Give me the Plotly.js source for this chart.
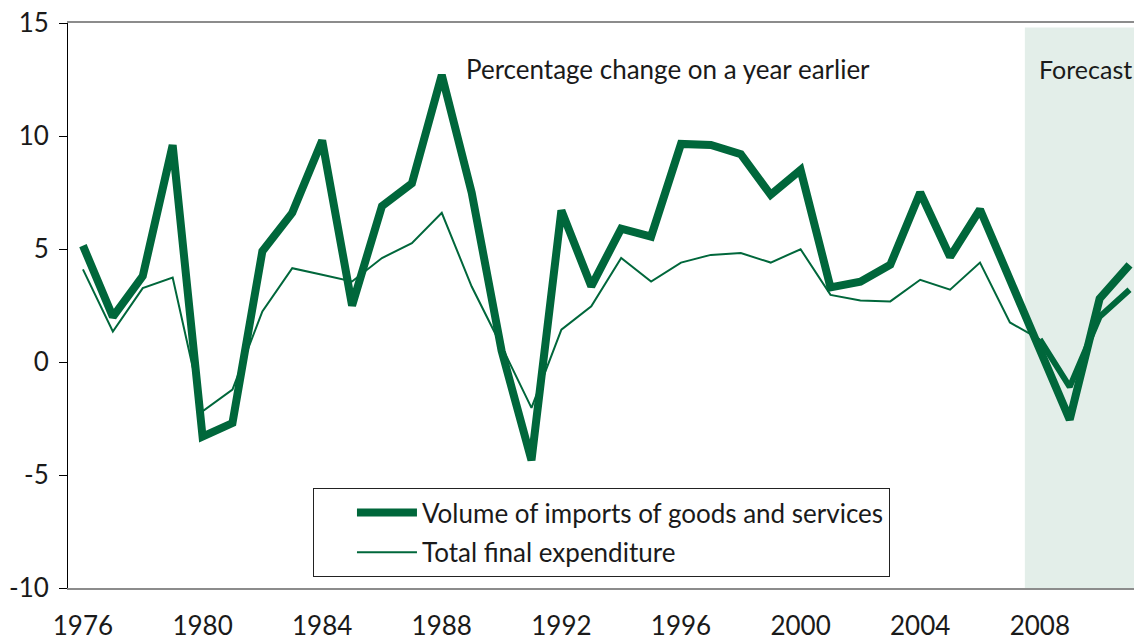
<!DOCTYPE html>
<html>
<head>
<meta charset="utf-8">
<script src="https://cdn.plot.ly/plotly-3.0.1.min.js"></script>
<style>
html,body{margin:0;padding:0;background:#fff;overflow:hidden;}
#chart{width:1134px;height:641px;}
</style>
</head>
<body>
<div id="chart"></div>
<script>
// ---- data ----
var years = [1976,1977,1978,1979,1980,1981,1982,1983,1984,1985,1986,1987,1988,1989,1990,1991,1992,1993,1994,1995,1996,1997,1998,1999,2000,2001,2002,2003,2004,2005,2006,2007,2008,2009,2010,2011];
var importsVolume = [5.15,2.0,3.8,9.6,-3.3,-2.7,4.9,6.6,9.8,2.5,6.9,7.9,12.7,7.5,0.5,-4.35,6.7,3.35,5.9,5.55,9.65,9.6,9.2,7.4,8.5,3.3,3.55,4.3,7.5,4.65,6.75,3.6,0.55,-2.55,2.8,4.3];
var totalFinalExpenditure = [4.1,1.35,3.27,3.74,-2.18,-1.22,2.24,4.15,3.86,3.56,4.6,5.26,6.6,3.34,0.7,-2.03,1.43,2.46,4.6,3.56,4.4,4.74,4.82,4.4,4.99,2.97,2.72,2.68,3.64,3.2,4.4,1.75,1.0,-1.1,2.0,3.2];
var tickYears = [1976,1980,1984,1988,1992,1996,2000,2004,2008];
var tickLabels = ['1976','1980','1984','1988','1992','1996','2000','2004','2008'];
var boundaryTicks = [1979.5,1983.5,1987.5,1991.5,1995.5,1999.5,2003.5,2007.5];
var forecastStart = 2007.5;
var forecastFromYear = 2008;
var seriesNames = ['Volume of imports of goods and services','Total final expenditure'];

var green = '#00673b';
var fontFam = 'Lato, "Open Sans", sans-serif';
var txtCol = '#1a1a1a';
var fs = 26;
var xr = [1975.5, 2011.15];

var fi = years.indexOf(forecastFromYear);

var traces = [
  {x: years, y: importsVolume, type:'scatter', mode:'lines', name: seriesNames[0],
   line:{color:green, width:8, shape:'linear'}, legendgroup:'a'},
  {x: years.slice(0, fi+1), y: totalFinalExpenditure.slice(0, fi+1), type:'scatter', mode:'lines', name: seriesNames[1],
   line:{color:green, width:2}, legendgroup:'b'},
  {x: years.slice(fi), y: totalFinalExpenditure.slice(fi), type:'scatter', mode:'lines', name: seriesNames[1],
   line:{color:green, width:6}, legendgroup:'b', showlegend:false}
];

var layout = {
  width:1134, height:641,
  margin:{l:68, r:0, t:23, b:53, pad:0},
  paper_bgcolor:'#fff', plot_bgcolor:'rgba(0,0,0,0)',
  font:{family:fontFam, size:fs, color:txtCol},
  showlegend:true,
  legend:{x:0.2298, y:0.177, xanchor:'left', yanchor:'top', bgcolor:'#fff',
          bordercolor:'#222', borderwidth:1, font:{family:fontFam, size:fs, color:txtCol},
          traceorder:'grouped', tracegroupgap:3, itemwidth:60, indentation:38},
  xaxis:{range:xr, tickmode:'array', tickvals:tickYears, ticktext:tickLabels,
         ticks:'', showgrid:false, zeroline:false, showline:true, mirror:true,
         linecolor:'#8c8c8c', linewidth:2, ticklabelstandoff:14,
         tickfont:{family:fontFam, size:fs, color:txtCol}, layer:'below traces', fixedrange:true},
  xaxis2:{range:xr, overlaying:'x', anchor:'free', position:0.4, side:'bottom',
          tickmode:'array', tickvals:boundaryTicks, ticks:'outside', ticklen:8, tickcolor:'#000', tickwidth:1,
          showticklabels:false, showgrid:false, zeroline:false, showline:true, linecolor:'#000', linewidth:1,
          layer:'below traces', fixedrange:true},
  yaxis:{range:[-10,15], tickmode:'array', tickvals:[-10,-5,0,5,10,15], ticktext:['-10','-5','0','5','10','15'],
         ticks:'outside', ticklen:8, tickcolor:'#000', tickwidth:1, showgrid:false, zeroline:false,
         showline:true, linecolor:'#000', linewidth:1, ticklabelstandoff:5,
         tickfont:{family:fontFam, size:fs, color:txtCol}, layer:'below traces', fixedrange:true},
  shapes:[
    {type:'rect', xref:'x', yref:'y', x0:forecastStart, x1:xr[1], y0:-10, y1:14.8,
     fillcolor:'#e3eee9', line:{width:0}, layer:'below'}
  ],
  annotations:[
    {text:'Percentage change on a year earlier', xref:'x', yref:'y', x:1988.75, y:12.95,
     xanchor:'left', yanchor:'middle', showarrow:false, font:{family:fontFam, size:fs, color:txtCol}},
    {text:'Forecast', xref:'x', yref:'y', x:2007.92, y:12.95,
     xanchor:'left', yanchor:'middle', showarrow:false, font:{family:fontFam, size:25, color:txtCol}}
  ]
};

Plotly.newPlot('chart', traces, layout, {displayModeBar:false, staticPlot:true});
</script>
</body>
</html>
